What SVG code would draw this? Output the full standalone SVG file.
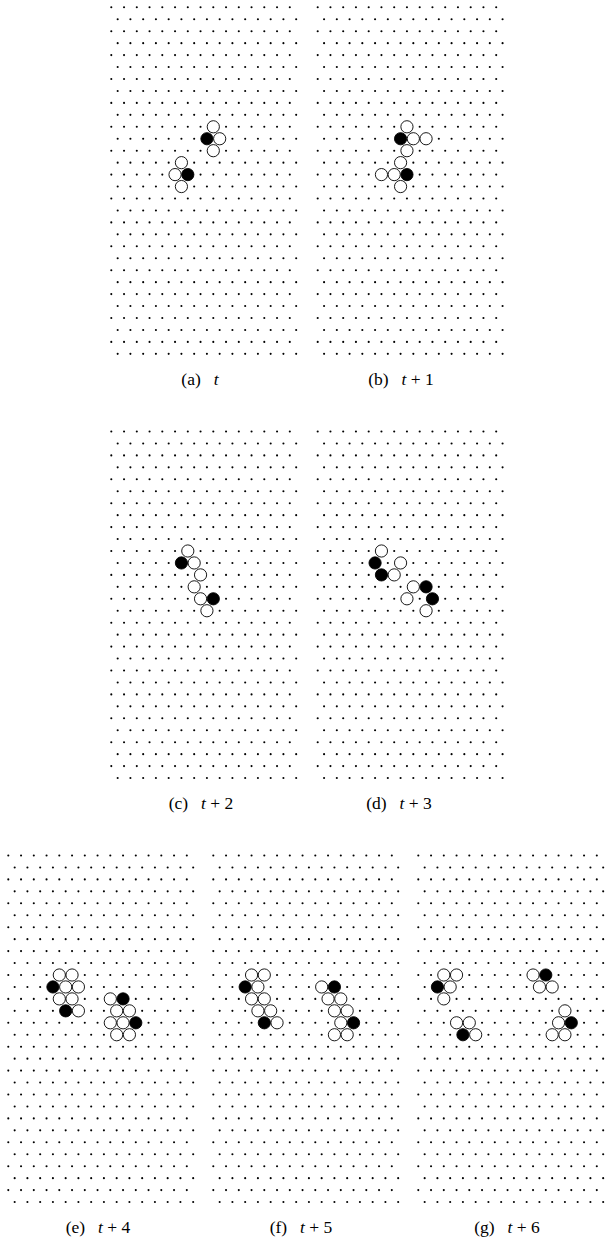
<svg xmlns="http://www.w3.org/2000/svg" xmlns:xlink="http://www.w3.org/1999/xlink" width="605" height="1242" viewBox="0 0 605 1242">
<style>
.dot{fill:#000}
.w{fill:#fff;stroke:#000;stroke-width:0.9}
.b{fill:#000;stroke:#000;stroke-width:0.9}
.cap{font-family:"Liberation Serif","DejaVu Serif",serif;font-size:17.5px;fill:#000;text-anchor:middle}
.it{font-style:italic}
</style>
<defs>
<g id="row">
<circle class="dot" cx="0" cy="0" r="1.05"/><circle class="dot" cx="12.75" cy="0" r="1.05"/><circle class="dot" cx="25.5" cy="0" r="1.05"/><circle class="dot" cx="38.25" cy="0" r="1.05"/><circle class="dot" cx="51" cy="0" r="1.05"/><circle class="dot" cx="63.75" cy="0" r="1.05"/><circle class="dot" cx="76.5" cy="0" r="1.05"/><circle class="dot" cx="89.25" cy="0" r="1.05"/><circle class="dot" cx="102" cy="0" r="1.05"/><circle class="dot" cx="114.75" cy="0" r="1.05"/><circle class="dot" cx="127.5" cy="0" r="1.05"/><circle class="dot" cx="140.25" cy="0" r="1.05"/><circle class="dot" cx="153" cy="0" r="1.05"/><circle class="dot" cx="165.75" cy="0" r="1.05"/><circle class="dot" cx="178.5" cy="0" r="1.05"/>
</g>
<g id="pair"><use xlink:href="#row"/><use xlink:href="#row" x="6.375" y="11.95"/></g>
<g id="lattice">
<use xlink:href="#pair" y="0"/><use xlink:href="#pair" y="23.9"/><use xlink:href="#pair" y="47.8"/><use xlink:href="#pair" y="71.7"/><use xlink:href="#pair" y="95.6"/><use xlink:href="#pair" y="119.5"/><use xlink:href="#pair" y="143.4"/><use xlink:href="#pair" y="167.3"/><use xlink:href="#pair" y="191.2"/><use xlink:href="#pair" y="215.1"/><use xlink:href="#pair" y="239"/><use xlink:href="#pair" y="262.9"/><use xlink:href="#pair" y="286.8"/><use xlink:href="#pair" y="310.7"/><use xlink:href="#pair" y="334.6"/>
</g>
</defs>

<g id="panel-a" transform="translate(111.3,7.3)">
<use xlink:href="#lattice"/>
<circle class="w" cx="102" cy="119.5" r="6.1"/>
<circle class="b" cx="95.625" cy="131.45" r="6.1"/>
<circle class="w" cx="108.375" cy="131.45" r="6.1"/>
<circle class="w" cx="102" cy="143.4" r="6.1"/>
<circle class="w" cx="70.125" cy="155.35" r="6.1"/>
<circle class="w" cx="63.75" cy="167.3" r="6.1"/>
<circle class="b" cx="76.5" cy="167.3" r="6.1"/>
<circle class="w" cx="70.125" cy="179.25" r="6.1"/>
</g>
<text class="cap" x="200" y="385">(a)<tspan class="it" dx="13">t</tspan></text>

<g id="panel-b" transform="translate(317.7,7.3)">
<use xlink:href="#lattice"/>
<circle class="w" cx="89.25" cy="119.5" r="6.1"/>
<circle class="b" cx="82.875" cy="131.45" r="6.1"/>
<circle class="w" cx="95.625" cy="131.45" r="6.1"/>
<circle class="w" cx="108.375" cy="131.45" r="6.1"/>
<circle class="w" cx="89.25" cy="143.4" r="6.1"/>
<circle class="w" cx="82.875" cy="155.35" r="6.1"/>
<circle class="w" cx="63.75" cy="167.3" r="6.1"/>
<circle class="w" cx="76.5" cy="167.3" r="6.1"/>
<circle class="b" cx="89.25" cy="167.3" r="6.1"/>
<circle class="w" cx="82.875" cy="179.25" r="6.1"/>
</g>
<text class="cap" x="401" y="385">(b)<tspan class="it" dx="13">t</tspan> + 1</text>

<g id="panel-c" transform="translate(111.3,431.5)">
<use xlink:href="#lattice"/>
<circle class="w" cx="76.5" cy="119.5" r="6.1"/>
<circle class="b" cx="70.125" cy="131.45" r="6.1"/>
<circle class="w" cx="82.875" cy="131.45" r="6.1"/>
<circle class="w" cx="89.25" cy="143.4" r="6.1"/>
<circle class="w" cx="82.875" cy="155.35" r="6.1"/>
<circle class="w" cx="89.25" cy="167.3" r="6.1"/>
<circle class="b" cx="102" cy="167.3" r="6.1"/>
<circle class="w" cx="95.625" cy="179.25" r="6.1"/>
</g>
<text class="cap" x="201" y="809">(c)<tspan class="it" dx="13">t</tspan> + 2</text>

<g id="panel-d" transform="translate(317.7,431.5)">
<use xlink:href="#lattice"/>
<circle class="w" cx="63.75" cy="119.5" r="6.1"/>
<circle class="b" cx="57.375" cy="131.45" r="6.1"/>
<circle class="w" cx="82.875" cy="131.45" r="6.1"/>
<circle class="b" cx="63.75" cy="143.4" r="6.1"/>
<circle class="w" cx="76.5" cy="143.4" r="6.1"/>
<circle class="w" cx="95.625" cy="155.35" r="6.1"/>
<circle class="b" cx="108.375" cy="155.35" r="6.1"/>
<circle class="w" cx="89.25" cy="167.3" r="6.1"/>
<circle class="b" cx="114.75" cy="167.3" r="6.1"/>
<circle class="w" cx="108.375" cy="179.25" r="6.1"/>
</g>
<text class="cap" x="399" y="809">(d)<tspan class="it" dx="13">t</tspan> + 3</text>

<g id="panel-e" transform="translate(8.3,855.5)">
<use xlink:href="#lattice"/>
<circle class="w" cx="51" cy="119.5" r="6.1"/>
<circle class="w" cx="63.75" cy="119.5" r="6.1"/>
<circle class="b" cx="44.625" cy="131.45" r="6.1"/>
<circle class="w" cx="57.375" cy="131.45" r="6.1"/>
<circle class="w" cx="70.125" cy="131.45" r="6.1"/>
<circle class="w" cx="51" cy="143.4" r="6.1"/>
<circle class="w" cx="63.75" cy="143.4" r="6.1"/>
<circle class="b" cx="57.375" cy="155.35" r="6.1"/>
<circle class="w" cx="70.125" cy="155.35" r="6.1"/>
<circle class="w" cx="102" cy="143.4" r="6.1"/>
<circle class="b" cx="114.75" cy="143.4" r="6.1"/>
<circle class="w" cx="108.375" cy="155.35" r="6.1"/>
<circle class="w" cx="121.125" cy="155.35" r="6.1"/>
<circle class="w" cx="102" cy="167.3" r="6.1"/>
<circle class="w" cx="114.75" cy="167.3" r="6.1"/>
<circle class="b" cx="127.5" cy="167.3" r="6.1"/>
<circle class="w" cx="108.375" cy="179.25" r="6.1"/>
<circle class="w" cx="121.125" cy="179.25" r="6.1"/>
</g>
<text class="cap" x="98" y="1233">(e)<tspan class="it" dx="13">t</tspan> + 4</text>

<g id="panel-f" transform="translate(213.3,855.5)">
<use xlink:href="#lattice"/>
<circle class="w" cx="38.25" cy="119.5" r="6.1"/>
<circle class="w" cx="51" cy="119.5" r="6.1"/>
<circle class="b" cx="31.875" cy="131.45" r="6.1"/>
<circle class="w" cx="44.625" cy="131.45" r="6.1"/>
<circle class="w" cx="38.25" cy="143.4" r="6.1"/>
<circle class="w" cx="51" cy="143.4" r="6.1"/>
<circle class="w" cx="44.625" cy="155.35" r="6.1"/>
<circle class="w" cx="57.375" cy="155.35" r="6.1"/>
<circle class="b" cx="51" cy="167.3" r="6.1"/>
<circle class="w" cx="63.75" cy="167.3" r="6.1"/>
<circle class="w" cx="108.375" cy="131.45" r="6.1"/>
<circle class="b" cx="121.125" cy="131.45" r="6.1"/>
<circle class="w" cx="114.75" cy="143.4" r="6.1"/>
<circle class="w" cx="127.5" cy="143.4" r="6.1"/>
<circle class="w" cx="121.125" cy="155.35" r="6.1"/>
<circle class="w" cx="133.875" cy="155.35" r="6.1"/>
<circle class="w" cx="127.5" cy="167.3" r="6.1"/>
<circle class="b" cx="140.25" cy="167.3" r="6.1"/>
<circle class="w" cx="121.125" cy="179.25" r="6.1"/>
<circle class="w" cx="133.875" cy="179.25" r="6.1"/>
</g>
<text class="cap" x="301" y="1233">(f)<tspan class="it" dx="13">t</tspan> + 5</text>

<g id="panel-g" transform="translate(418.3,855.5)">
<use xlink:href="#lattice"/>
<circle class="w" cx="25.5" cy="119.5" r="6.1"/>
<circle class="w" cx="38.25" cy="119.5" r="6.1"/>
<circle class="b" cx="19.125" cy="131.45" r="6.1"/>
<circle class="w" cx="31.875" cy="131.45" r="6.1"/>
<circle class="w" cx="25.5" cy="143.4" r="6.1"/>
<circle class="w" cx="114.75" cy="119.5" r="6.1"/>
<circle class="b" cx="127.5" cy="119.5" r="6.1"/>
<circle class="w" cx="121.125" cy="131.45" r="6.1"/>
<circle class="w" cx="133.875" cy="131.45" r="6.1"/>
<circle class="w" cx="38.25" cy="167.3" r="6.1"/>
<circle class="w" cx="51" cy="167.3" r="6.1"/>
<circle class="b" cx="44.625" cy="179.25" r="6.1"/>
<circle class="w" cx="57.375" cy="179.25" r="6.1"/>
<circle class="w" cx="146.625" cy="155.35" r="6.1"/>
<circle class="w" cx="140.25" cy="167.3" r="6.1"/>
<circle class="b" cx="153" cy="167.3" r="6.1"/>
<circle class="w" cx="133.875" cy="179.25" r="6.1"/>
<circle class="w" cx="146.625" cy="179.25" r="6.1"/>
</g>
<text class="cap" x="507" y="1233">(g)<tspan class="it" dx="13">t</tspan> + 6</text>
</svg>
